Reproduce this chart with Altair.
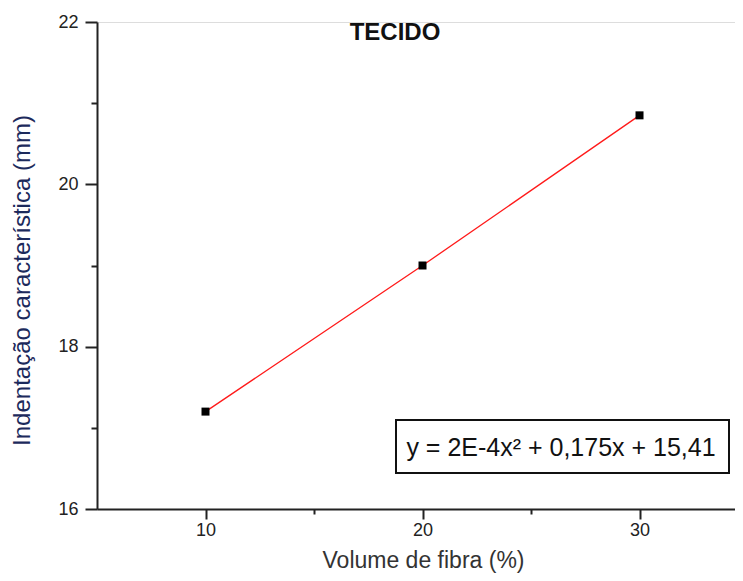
import altair as alt
import pandas as pd

# data
volume = [10, 20, 30]
indentacao = [17.2, 19.0, 20.85]
equation = "y = 2E-4x² + 0,175x + 15,41"
chart_title = "TECIDO"
x_title = "Volume de fibra (%)"
y_title = "Indentação característica (mm)"
x_ticks = [10, 15, 20, 25, 30]
y_ticks = [16, 17, 18, 19, 20, 21, 22]

df = pd.DataFrame({"x": volume, "y": indentacao})

FONT = "Liberation Sans"

x_enc = alt.X(
    "x:Q",
    scale=alt.Scale(domain=[5, 34.4], nice=False, zero=False),
    axis=alt.Axis(
        title=x_title, values=x_ticks, format="d",
        labelExpr="datum.value % 10 === 0 ? datum.label : ''",
        tickSize={"condition": {"test": "datum.value % 10 === 0", "value": 10}, "value": 5},
        labelPadding=2, titleX=326, titleY=58, titleBaseline="alphabetic",
        titleFontSize=23, titleColor="#333",
    ),
)
y_enc = alt.Y(
    "y:Q",
    scale=alt.Scale(domain=[16, 22], nice=False, zero=False),
    axis=alt.Axis(
        title=y_title, values=y_ticks, format="d",
        labelExpr="datum.value % 2 === 0 ? datum.label : ''",
        tickSize={"condition": {"test": "datum.value % 2 === 0", "value": 12}, "value": 6},
        labelPadding=7, titleFontSize=24, titleColor="#1c2a5c",
        titleX=-63, titleY=258,
    ),
)

base = alt.Chart(df)
line = base.mark_line(color="#ff1a1a", strokeWidth=1.3, interpolate="monotone").encode(x=x_enc, y=y_enc)
pts = base.mark_square(color="black", size=64, opacity=1).encode(x=x_enc, y=y_enc)

title_df = pd.DataFrame({"t": [chart_title]})
title_mark = alt.Chart(title_df).mark_text(
    font=FONT, fontSize=24, fontWeight="bold", color="#111", align="center", baseline="middle"
).encode(text="t:N", x=alt.value(298), y=alt.value(11))

eq_df = pd.DataFrame({"t": [equation]})
box = alt.Chart(eq_df).mark_rect(fill="white", stroke="#111", strokeWidth=2).encode(
    x=alt.value(299), x2=alt.value(632), y=alt.value(398), y2=alt.value(451)
)
eq_text = alt.Chart(eq_df).mark_text(
    font=FONT, fontSize=25, color="#111", align="center", baseline="middle"
).encode(text="t:N", x=alt.value(464), y=alt.value(426))

chart = alt.layer(line, pts, title_mark, box, eq_text).properties(
    width=638, height=487,
    autosize=alt.AutoSizeParams(type="none"),
    padding={"top": 14, "left": 89, "right": 0, "bottom": 64},
).configure_view(stroke=None).configure(background="white").configure_axis(
    grid=False, domainColor="#222", domainWidth=2, tickColor="#222", tickWidth=2,
    labelFont=FONT, labelFontSize=18, labelColor="#222",
    titleFont=FONT, titleFontWeight="normal",
)

chart.save("out.html", embed_options={"renderer": "svg", "actions": False})
